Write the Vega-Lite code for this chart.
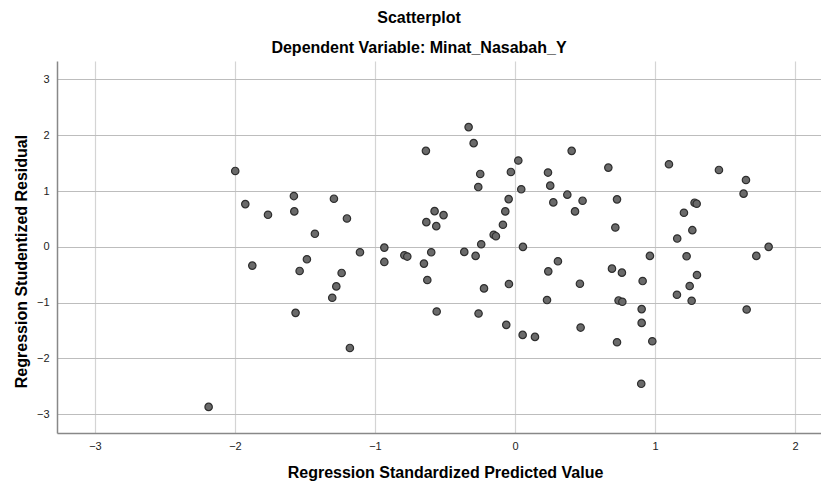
{
  "$schema": "https://vega.github.io/schema/vega-lite/v6.json",
  "autosize": "none",
  "width": 764,
  "height": 372,
  "padding": {"left": 57, "top": 61, "right": 0, "bottom": 50},
  "background": "white",
  "title": {
    "text": "Scatterplot",
    "subtitle": "Dependent Variable: Minat_Nasabah_Y",
    "anchor": "middle",
    "dx": -20,
    "offset": 5,
    "font": "Liberation Sans",
    "fontSize": 16,
    "fontWeight": "bold",
    "color": "#000000",
    "subtitleFont": "Liberation Sans",
    "subtitleFontSize": 16,
    "subtitleFontWeight": "bold",
    "subtitleColor": "#000000",
    "subtitlePadding": 14
  },
  "config": {
    "view": {"stroke": null},
    "axis": {
      "labelFont": "Liberation Sans",
      "labelFontSize": 11,
      "labelColor": "#222222",
      "titleFont": "Liberation Sans",
      "titleFontSize": 16,
      "titleFontWeight": "bold",
      "titleColor": "#000000",
      "domainColor": "#888888",
      "domainWidth": 1.5,
      "ticks": false,
      "grid": true,
      "gridWidth": 1.2
    }
  },
  "data": {
    "values": [
      {"pred": -1.998, "resid": 1.36},
      {"pred": -1.926, "resid": 0.766},
      {"pred": -1.764, "resid": 0.575},
      {"pred": -1.579, "resid": 0.91},
      {"pred": -1.576, "resid": 0.635},
      {"pred": -1.429, "resid": 0.234},
      {"pred": -1.293, "resid": 0.863},
      {"pred": -1.2, "resid": 0.509},
      {"pred": -1.107, "resid": -0.097},
      {"pred": -0.933, "resid": -0.013},
      {"pred": -0.79, "resid": -0.151},
      {"pred": -0.769, "resid": -0.174},
      {"pred": -0.636, "resid": 1.72},
      {"pred": -0.633, "resid": 0.443},
      {"pred": -0.574, "resid": 0.64},
      {"pred": -0.562, "resid": 0.371},
      {"pred": -0.51, "resid": 0.569},
      {"pred": -0.598, "resid": -0.097},
      {"pred": -0.331, "resid": 2.146},
      {"pred": -0.295, "resid": 1.858},
      {"pred": -0.248, "resid": 1.306},
      {"pred": -0.262, "resid": 1.072},
      {"pred": -0.362, "resid": -0.09},
      {"pred": -0.281, "resid": -0.162},
      {"pred": -0.241, "resid": 0.047},
      {"pred": -0.152, "resid": 0.216},
      {"pred": -0.136, "resid": 0.191},
      {"pred": -0.086, "resid": 0.396},
      {"pred": -0.069, "resid": 0.635},
      {"pred": -0.045, "resid": 0.856},
      {"pred": -0.029, "resid": 1.342},
      {"pred": 0.024, "resid": 1.547},
      {"pred": 0.045, "resid": 1.031},
      {"pred": 0.057, "resid": 0.0},
      {"pred": 0.236, "resid": 1.331},
      {"pred": 0.252, "resid": 1.097},
      {"pred": 0.274, "resid": 0.797},
      {"pred": 0.374, "resid": 0.935},
      {"pred": 0.429, "resid": 0.635},
      {"pred": 0.405, "resid": 1.72},
      {"pred": 0.483, "resid": 0.827},
      {"pred": 0.667, "resid": 1.42},
      {"pred": 0.729, "resid": 0.851},
      {"pred": 0.717, "resid": 0.347},
      {"pred": 0.964, "resid": -0.162},
      {"pred": 1.1, "resid": 1.48},
      {"pred": 1.207, "resid": 0.611},
      {"pred": 1.283, "resid": 0.791},
      {"pred": 1.298, "resid": 0.773},
      {"pred": 1.267, "resid": 0.299},
      {"pred": 1.159, "resid": 0.149},
      {"pred": 1.226, "resid": -0.169},
      {"pred": 1.457, "resid": 1.378},
      {"pred": 1.65, "resid": 1.198},
      {"pred": 1.633, "resid": 0.953},
      {"pred": 1.724, "resid": -0.162},
      {"pred": 1.812, "resid": 0.0},
      {"pred": -1.876, "resid": -0.336},
      {"pred": -1.538, "resid": -0.432},
      {"pred": -1.486, "resid": -0.223},
      {"pred": -1.567, "resid": -1.182},
      {"pred": -2.188, "resid": -2.867},
      {"pred": -1.238, "resid": -0.468},
      {"pred": -1.276, "resid": -0.708},
      {"pred": -1.305, "resid": -0.912},
      {"pred": -1.179, "resid": -1.811},
      {"pred": -0.933, "resid": -0.27},
      {"pred": -0.65, "resid": -0.3},
      {"pred": -0.626, "resid": -0.594},
      {"pred": -0.559, "resid": -1.158},
      {"pred": -0.221, "resid": -0.744},
      {"pred": -0.26, "resid": -1.194},
      {"pred": -0.043, "resid": -0.666},
      {"pred": -0.062, "resid": -1.397},
      {"pred": 0.055, "resid": -1.577},
      {"pred": 0.143, "resid": -1.613},
      {"pred": 0.238, "resid": -0.439},
      {"pred": 0.307, "resid": -0.259},
      {"pred": 0.229, "resid": -0.953},
      {"pred": 0.464, "resid": -0.66},
      {"pred": 0.469, "resid": -1.446},
      {"pred": 0.693, "resid": -0.39},
      {"pred": 0.764, "resid": -0.462},
      {"pred": 0.912, "resid": -0.612},
      {"pred": 0.74, "resid": -0.96},
      {"pred": 0.767, "resid": -0.984},
      {"pred": 0.905, "resid": -1.115},
      {"pred": 0.905, "resid": -1.362},
      {"pred": 0.729, "resid": -1.709},
      {"pred": 0.981, "resid": -1.691},
      {"pred": 0.902, "resid": -2.453},
      {"pred": 1.3, "resid": -0.504},
      {"pred": 1.248, "resid": -0.701},
      {"pred": 1.157, "resid": -0.858},
      {"pred": 1.262, "resid": -0.966},
      {"pred": 1.655, "resid": -1.122}
    ]
  },
  "mark": {"type": "point", "filled": true, "size": 55, "fill": "#6a6a6a", "stroke": "#2e2e2e", "strokeWidth": 1.2, "opacity": 1, "fillOpacity": 1},
  "encoding": {
    "x": {
      "field": "pred",
      "type": "quantitative",
      "scale": {"domain": [-3.271, 2.186], "nice": false, "zero": false},
      "axis": {
        "title": "Regression Standardized Predicted Value",
        "values": [-3, -2, -1, 0, 1, 2],
        "format": "d",
        "gridColor": "#d4d4d4",
        "labelPadding": 7,
        "titlePadding": 13,
        "titleX": 388
      }
    },
    "y": {
      "field": "resid",
      "type": "quantitative",
      "scale": {"domain": [-3.335, 3.33], "nice": false, "zero": false},
      "axis": {
        "title": "Regression Studentized Residual",
        "values": [-3, -2, -1, 0, 1, 2, 3],
        "format": "d",
        "gridColor": "#bdbdbd",
        "labelPadding": 8,
        "titlePadding": 7,
        "titleY": 200
      }
    }
  }
}
